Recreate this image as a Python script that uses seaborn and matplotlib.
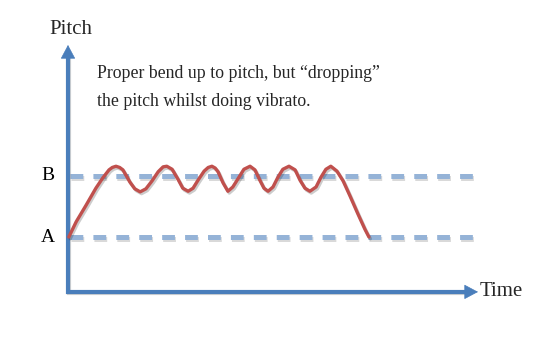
import numpy as np
import pandas as pd
import matplotlib
matplotlib.use("Agg")
import matplotlib.pyplot as plt
import matplotlib.patheffects as pe
import seaborn as sns

# ---- data (time units, pitch units: A = 0, B = 1) ----
time = [0.02, 0.20, 0.44, 0.68, 0.85, 1.00, 1.08, 1.17, 1.26, 1.34, 1.51, 1.63, 1.76, 1.90,
        2.05, 2.20, 2.32, 2.41, 2.54, 2.68, 2.80, 2.93, 3.05, 3.17, 3.32, 3.42, 3.51,
        3.59, 3.66, 3.78, 3.90, 4.02, 4.17, 4.29, 4.44, 4.56, 4.68, 4.78, 4.88, 5.00,
        5.12, 5.24, 5.39, 5.54, 5.66, 5.78, 5.90, 6.05, 6.17, 6.29, 6.41, 6.56,
        6.71, 6.88, 7.07, 7.24, 7.34]
pitch = [0.00, 0.25, 0.52, 0.80, 0.97, 1.10, 1.14, 1.16, 1.14, 1.10, 0.90, 0.79, 0.74, 0.79,
         0.92, 1.07, 1.15, 1.16, 1.11, 0.95, 0.80, 0.75, 0.80, 0.93, 1.08, 1.14, 1.16,
         1.13, 1.07, 0.89, 0.75, 0.82, 0.98, 1.11, 1.16, 1.10, 0.93, 0.80, 0.75, 0.82,
         0.98, 1.11, 1.16, 1.10, 0.93, 0.80, 0.75, 0.82, 0.98, 1.11, 1.16, 1.08,
         0.92, 0.67, 0.38, 0.13, 0.00]
ref_labels = ["A", "B"]
ref_levels = [0.0, 1.0]
axis_labels = ["Time", "Pitch"]
note_lines = ["Proper bend up to pitch, but \u201cdropping\u201d",
              "the pitch whilst doing vibrato."]

df = pd.DataFrame({"time": time, "pitch": pitch})

sns.set_theme(style="white")
plt.rcParams["font.family"] = ["Liberation Serif", "DejaVu Serif"]
plt.rcParams["lines.scale_dashes"] = False

fig = plt.figure(figsize=(5.4, 3.4), dpi=100)
ax = fig.add_axes([0, 0, 1, 1])
ax.set_xlim(-68 / 41, (540 - 68) / 41)
ax.set_ylim((237 - 340) / 61, 237 / 61)
ax.axis("off")

axis_blue = "#4a7ebb"
dash_blue = "#95b3d7"
red = "#c0504d"
x_end = 10.0
y_base = -0.9
y_top = (237 - 45) / 61

shadow = [pe.SimpleLineShadow(offset=(1.0, -1.3), alpha=0.22, shadow_color="#555555"), pe.Normal()]

# dashed reference lines
for lvl, lab in zip(ref_levels, ref_labels):
    ln, = ax.plot([0.05, x_end], [lvl, lvl], color=dash_blue, lw=3.6,
                  solid_capstyle="butt", dash_capstyle="butt", zorder=2)
    ln.set_dashes([9.2, 7.3])
    ln.set_path_effects(shadow)
    ax.text(-0.5, lvl, lab, ha="center", va="center", fontsize=14, color="black")

# axes (L-shape + arrow heads)
ax.plot([0, 0, x_end - 0.25], [y_top - 0.15, y_base, y_base], color=axis_blue, lw=3,
        solid_joinstyle="miter", solid_capstyle="butt", zorder=4,
        path_effects=[pe.SimpleLineShadow(offset=(1, -1), alpha=0.2), pe.Normal()])
arrow_kw = dict(arrowstyle="-|>,head_length=0.9,head_width=0.48", color=axis_blue,
                lw=0.5, mutation_scale=10, shrinkA=0, shrinkB=0)
ax.annotate("", xy=(0, y_top), xytext=(0, y_top - 0.3), arrowprops=arrow_kw, zorder=5)
ax.annotate("", xy=(x_end, y_base), xytext=(x_end - 0.4, y_base), arrowprops=arrow_kw, zorder=5)

# the pitch curve
sns.lineplot(data=df, x="time", y="pitch", ax=ax, color=red, lw=2.4, sort=False,
             zorder=6, legend=False)
curve = ax.lines[-1]
curve.set_solid_capstyle("round")
curve.set_solid_joinstyle("round")
curve.set_path_effects([pe.SimpleLineShadow(offset=(1.0, -1.3), alpha=0.22), pe.Normal()])

# labels
ax.text(x_end + 0.05, y_base, axis_labels[0], ha="left", va="center", fontsize=15)
ax.text(0.07, (237 - 30) / 61, axis_labels[1], ha="center", va="center", fontsize=15)
ax.text((97 - 68) / 41, (237 - 74) / 61, note_lines[0], ha="left", va="center", fontsize=12.8)
ax.text((97 - 68) / 41, (237 - 101) / 61, note_lines[1], ha="left", va="center", fontsize=12.8)

fig.savefig("out.png", dpi=100)
